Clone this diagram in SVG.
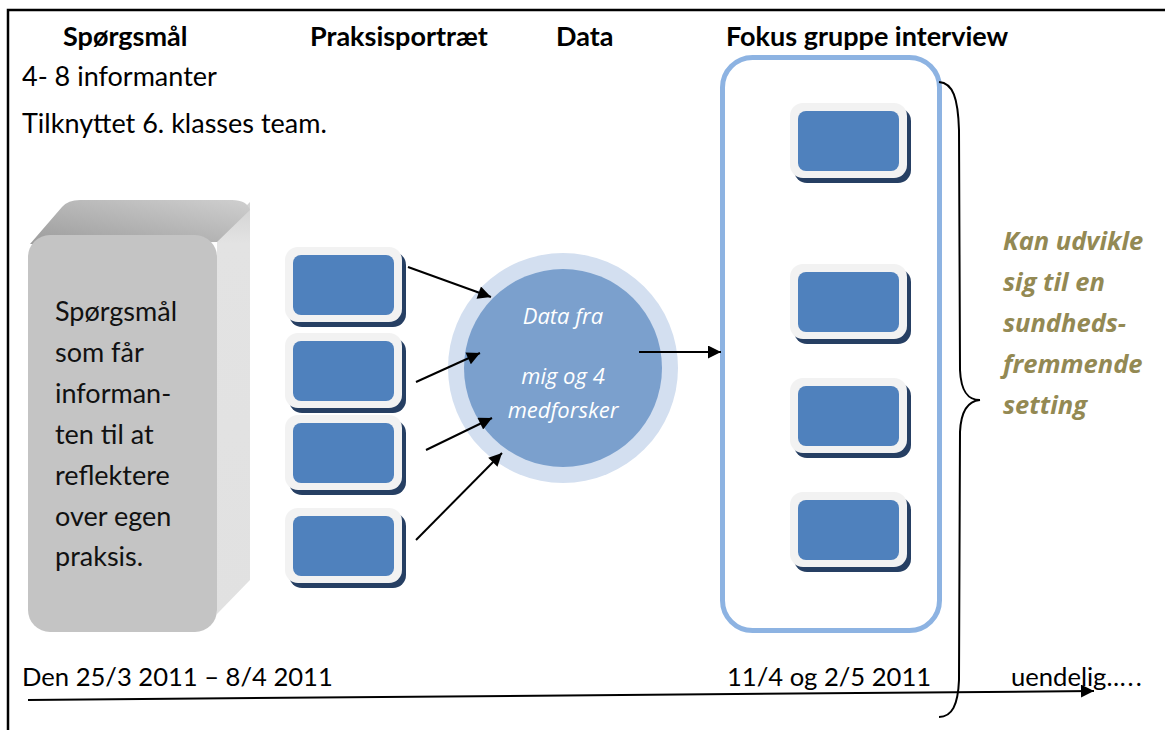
<svg xmlns="http://www.w3.org/2000/svg" width="1165" height="730" viewBox="0 0 1165 730">
  <style>
    .head { font-family: Lato, "Liberation Sans", sans-serif; font-weight: bold; font-size: 27px; fill: #000; }
    .body { font-family: Lato, "Liberation Sans", sans-serif; font-size: 27px; fill: #000; }
    .date { font-family: Lato, "Liberation Sans", sans-serif; font-size: 25.6px; fill: #000; }
    .boxtxt { font-family: Lato, "Liberation Sans", sans-serif; font-size: 27px; fill: #111; }
    .circ { font-family: "Open Sans", "Liberation Sans", sans-serif; font-style: italic; font-size: 22px; fill: #fff; text-anchor: middle; }
    .note { font-family: "Open Sans", "Liberation Sans", sans-serif; font-style: italic; font-weight: bold; font-size: 25.5px; fill: #938953; }
    .wire { stroke: #000; stroke-width: 2; fill: none; }
  </style>
  <defs>
    <marker id="headL" viewBox="0 0 10 10" refX="10" refY="5" markerWidth="17" markerHeight="13" markerUnits="userSpaceOnUse" orient="auto">
      <path d="M0,0 L10,5 L0,10 z" fill="#000"/>
    </marker>
    <linearGradient id="topFace" x1="0" y1="1" x2="1" y2="0">
      <stop offset="0" stop-color="#9c9c9c"/>
      <stop offset="1" stop-color="#cfcfcf"/>
    </linearGradient>
    <linearGradient id="sideFace" x1="0" y1="0" x2="0" y2="1">
      <stop offset="0" stop-color="#d2d2d2"/>
      <stop offset="0.1" stop-color="#e3e3e3"/>
      <stop offset="1" stop-color="#e1e1e1"/>
    </linearGradient>
    <!-- blue tile with light rim and dark drop shadow -->
    <g id="tile">
      <rect x="4" y="5" width="117" height="75" rx="13" fill="#263f63"/>
      <rect x="0" y="0" width="117" height="75" rx="13" fill="#f2f2f2"/>
      <rect x="8" y="8" width="101" height="60" rx="8" fill="#4f81bd"/>
    </g>
  </defs>

  <rect width="1165" height="730" fill="#fff"/>

  <!-- page frame -->
  <path d="M8,730 L8,10 L1165,10" stroke="#000" stroke-width="2.5" fill="none"/>

  <!-- column headings -->
  <g id="headings">
    <text class="head" x="63" y="46">Spørgsmål</text>
    <text class="head" x="310" y="46">Praksisportræt</text>
    <text class="head" x="556" y="46">Data</text>
    <text class="head" x="726" y="46">Fokus gruppe interview</text>
  </g>

  <g id="info">
    <text class="body" x="22" y="86">4- 8 informanter</text>
    <text class="body" x="22" y="133">Tilknyttet 6. klasses team.</text>
  </g>

  <!-- extruded question block -->
  <g id="questions">
    <path d="M217,236 L250,202 L250,580 L217,614 Z" fill="url(#sideFace)"/>
    <path d="M30,244 L62,207 Q68,200 80,200 L232,200 Q247,200 250,210 L217,242 Z" fill="url(#topFace)"/>
    <rect x="28" y="235" width="189" height="397" rx="22" fill="#c4c4c4"/>
    <text class="boxtxt" x="55" y="321">Spørgsmål</text>
    <text class="boxtxt" x="55" y="362">som får</text>
    <text class="boxtxt" x="55" y="403">informan-</text>
    <text class="boxtxt" x="55" y="444">ten til at</text>
    <text class="boxtxt" x="55" y="485">reflektere</text>
    <text class="boxtxt" x="55" y="526">over egen</text>
    <text class="boxtxt" x="55" y="566">praksis.</text>
  </g>

  <!-- practice portraits -->
  <g id="portrait-1"><use href="#tile" x="285" y="247"/></g>
  <g id="portrait-2"><use href="#tile" x="285" y="333"/></g>
  <g id="portrait-3"><use href="#tile" x="285" y="415"/></g>
  <g id="portrait-4"><use href="#tile" x="285" y="508"/></g>

  <!-- data circle -->
  <g id="data">
    <circle cx="563" cy="368" r="115" fill="#d3dff0"/>
    <circle cx="563" cy="368" r="99" fill="#7ba0cd"/>
    <text class="circ" x="563" y="324">Data fra</text>
    <text class="circ" x="563" y="384">mig og 4</text>
    <text class="circ" x="563" y="418">medforsker</text>
  </g>

  <!-- focus group container -->
  <g id="focus-group">
    <rect x="722.5" y="57.5" width="217" height="573" rx="30" fill="none" stroke="#8db3e2" stroke-width="5"/>
  </g>
  <g id="interview-1"><use href="#tile" x="790" y="103"/></g>
  <g id="interview-2"><use href="#tile" x="790" y="264"/></g>
  <g id="interview-3"><use href="#tile" x="790" y="378"/></g>
  <g id="interview-4"><use href="#tile" x="790" y="492"/></g>

  <!-- outlook note -->
  <g id="outlook">
    <text class="note" x="1003" y="250">Kan udvikle</text>
    <text class="note" x="1003" y="291">sig til en</text>
    <text class="note" x="1003" y="332">sundheds-</text>
    <text class="note" x="1003" y="373">fremmende</text>
    <text class="note" x="1003" y="414">setting</text>
  </g>

  <g id="dates">
    <text class="date" x="22" y="686">Den 25/3 2011 – 8/4 2011</text>
    <text class="date" x="727" y="686">11/4 og 2/5 2011</text>
    <text class="date" x="1011" y="686">uendelig<tspan letter-spacing="2">…..</tspan></text>
  </g>

  <g id="connectors">
    <line class="wire" x1="408" y1="267" x2="491" y2="297" marker-end="url(#headL)"/>
    <line class="wire" x1="416" y1="382" x2="480" y2="353" marker-end="url(#headL)"/>
    <line class="wire" x1="426" y1="450" x2="492" y2="418" marker-end="url(#headL)"/>
    <line class="wire" x1="416" y1="540" x2="502" y2="453" marker-end="url(#headL)"/>
    <line class="wire" x1="639" y1="352" x2="721" y2="352" marker-end="url(#headL)"/>
    <line class="wire" x1="28" y1="700" x2="1094" y2="691" marker-end="url(#headL)"/>
    <path class="wire" d="M939,82 C953,83 958,98 959,130 L960,370 C961,392 968,400 980,400 C968,401 961,410 960,432 L959,680 C958,705 952,717 939,717"/>
  </g>
</svg>
